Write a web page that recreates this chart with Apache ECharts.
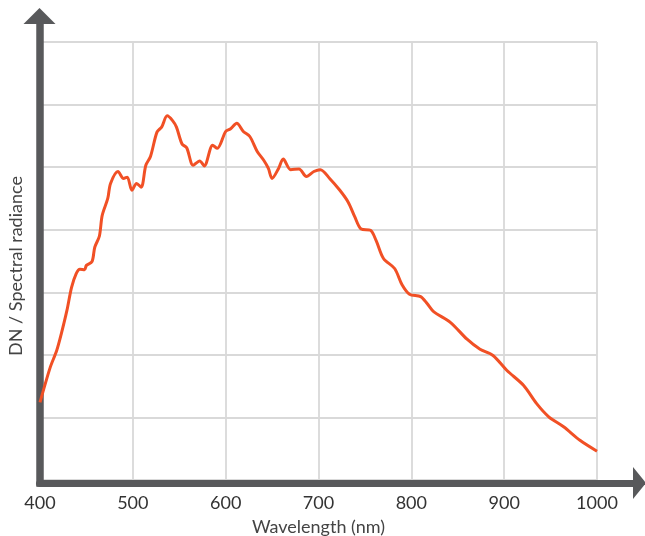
<!DOCTYPE html>
<html>
<head>
<meta charset="utf-8">
<script src="https://cdn.jsdelivr.net/npm/echarts@6/dist/echarts.min.js"></script>
<style>
html,body{margin:0;padding:0;background:#fff;}
#chart{width:645px;height:536px;}
</style>
</head>
<body>
<div id="chart"></div>
<script>
// Wavelength (nm)
const wavelengths = [400,411,418,423,429,434,439,443,448,450,456,459,464,467,473,476,484,490,494,499,504,509,514,519,526,531,537,543,547,553,558,565,572,577,586,591,600,605,612,619,626,634,641,646,650,657,662,670,679,687,695,702,712,723,732,739,746,756,762,770,782,790,798,810,817,824,842,860,874,888,903,921,935,948,964,982,1000];
// DN / Spectral radiance (relative, gridline units)
const radiance = [1.24,1.80,2.07,2.34,2.71,3.08,3.30,3.37,3.36,3.43,3.49,3.72,3.90,4.23,4.50,4.74,4.93,4.82,4.84,4.63,4.74,4.68,5.03,5.17,5.56,5.64,5.82,5.74,5.64,5.37,5.31,5.03,5.10,5.02,5.35,5.30,5.57,5.61,5.70,5.57,5.49,5.25,5.11,4.98,4.82,4.98,5.13,4.96,4.97,4.85,4.93,4.96,4.82,4.63,4.44,4.21,4.01,3.99,3.83,3.54,3.38,3.12,2.97,2.93,2.82,2.69,2.52,2.25,2.09,1.99,1.75,1.51,1.22,1.01,0.85,0.63,0.46];
const xTicks = ['400','500','600','700','800','900','1000'];

const seriesData = wavelengths.map((w, i) => [w, radiance[i]]);
const axisColor = '#58595b';
const gridColor = '#d9d9d9';
const font = 'Lato';

const chart = echarts.init(document.getElementById('chart'), null, {renderer: 'canvas'});
chart.setOption({
  animation: false,
  backgroundColor: '#fff',
  grid: [
    {left: 40, right: 48, top: 42, bottom: 56, containLabel: false, outerBoundsMode: 'none'},
    {left: 39.5, right: 12, top: 24, bottom: 53, containLabel: false, outerBoundsMode: 'none'}
  ],
  xAxis: [
    {
      type: 'value', gridIndex: 0, min: 400, max: 1000, interval: 100,
      axisLine: {show: false}, axisTick: {show: false},
      splitLine: {show: true, lineStyle: {color: gridColor, width: 1.8}},
      axisLabel: {color: '#333', fontFamily: font, fontSize: 18, margin: 14,
        formatter: v => xTicks[(v - 400) / 100] || ''},
      name: 'Wavelength (nm)', nameLocation: 'middle', nameGap: 38,
      nameTextStyle: {color: '#444', fontFamily: font, fontSize: 18}
    },
    {
      type: 'value', gridIndex: 1, min: 0, max: 1,
      axisLine: {show: true, onZero: false, symbol: ['none', 'triangle'], symbolSize: [32, 13], symbolOffset: [0, 6.5],
        lineStyle: {color: axisColor, width: 7}},
      axisTick: {show: false}, axisLabel: {show: false}, splitLine: {show: false}
    }
  ],
  yAxis: [
    {
      type: 'value', gridIndex: 0, min: 0, max: 7, interval: 1,
      axisLine: {show: false}, axisTick: {show: false}, axisLabel: {show: false},
      splitLine: {show: true, lineStyle: {color: gridColor, width: 1.8}},
      name: 'DN / Spectral radiance', nameLocation: 'middle', nameGap: 15,
      nameTextStyle: {color: '#444', fontFamily: font, fontSize: 18, padding: [0, 10, 0, 0]}
    },
    {
      type: 'value', gridIndex: 1, min: 0, max: 1,
      axisLine: {show: true, onZero: false, symbol: ['none', 'triangle'], symbolSize: [32, 16], symbolOffset: [0, 8],
        lineStyle: {color: axisColor, width: 7.5, cap: 'square'}},
      axisTick: {show: false}, axisLabel: {show: false}, splitLine: {show: false}
    }
  ],
  series: [
    {
      type: 'line', xAxisIndex: 0, yAxisIndex: 0,
      data: seriesData, smooth: 0.3, showSymbol: false,
      lineStyle: {color: '#f15025', width: 3}, z: 3
    }
  ]
});
</script>
</body>
</html>
